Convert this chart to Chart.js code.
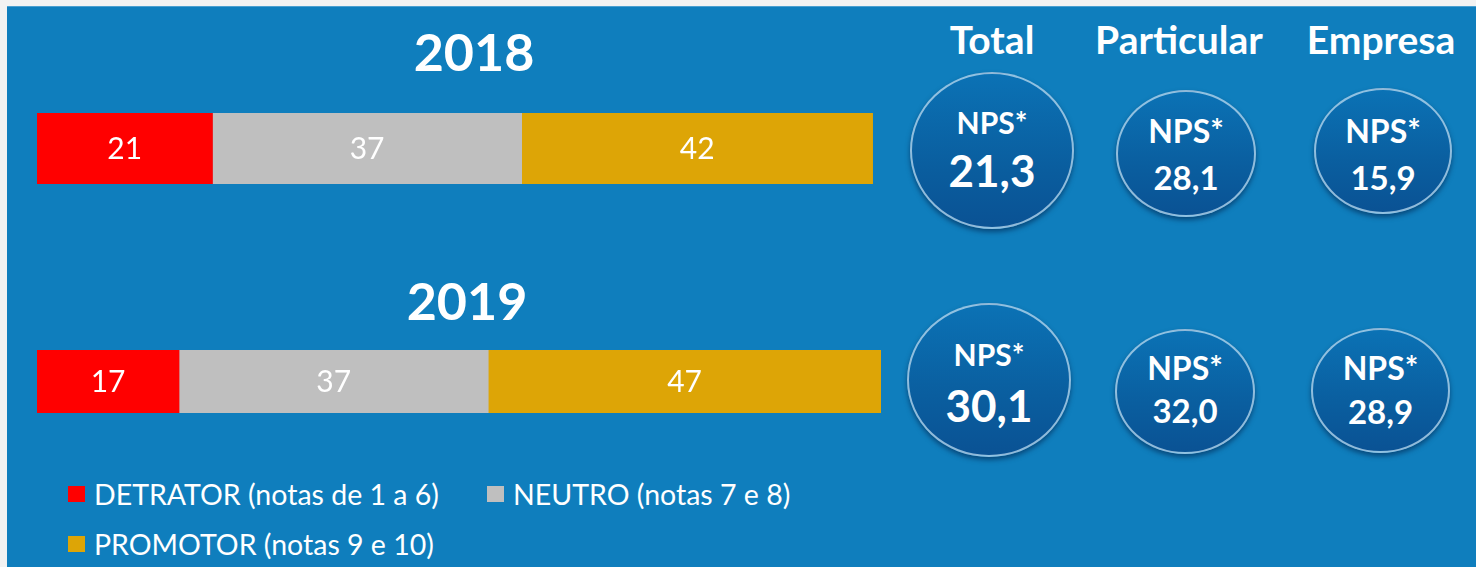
<!DOCTYPE html>
<html>
<head>
<meta charset="utf-8">
<script src="https://cdn.jsdelivr.net/npm/chart.js@4.4.0/dist/chart.umd.min.js"></script>
<style>
  html, body { margin: 0; padding: 0; }
  body { width: 1476px; height: 567px; background: #f2f2f2; position: relative; overflow: hidden; font-family: Lato, "Open Sans", sans-serif; }
  #panel { position: absolute; left: 7px; top: 6px; right: 0; bottom: 0; background: #0f7ebd; border-top: 1px solid #4a9fd0; }
  .abs { position: absolute; color: #fff; }
  .year { font-weight: bold; font-size: 52px; transform: translateX(-50%); line-height: 1; }
  .head { font-weight: bold; font-size: 39px; transform: translateX(-50%); line-height: 1; white-space: nowrap; }
  .circle { position: absolute; border-radius: 50%; box-sizing: border-box;
    border: 2px solid rgba(190, 220, 240, 0.75);
    background: linear-gradient(#0b72b5, #0a5e9f 60%, #0a5294);
    box-shadow: 0 3px 5px rgba(0, 30, 70, 0.55);
    color: #fff; font-weight: bold; text-align: center; }
  .circle div { position: absolute; left: 0; right: 0; line-height: 1; }
  .chartbox { position: absolute; }
  #legend { position: absolute; left: 68px; top: 478px; width: 800px; color: #fff; font-size: 28.5px; }
  .li { position: absolute; white-space: nowrap; }
  .li span.sw { position: absolute; left: 0; top: 8px; width: 17px; height: 16px; }
  .li span.tx { position: absolute; left: 26px; top: -1px; }
</style>
</head>
<body>
<div id="panel"></div>

<div class="abs year" style="left:474px; top:25px;">2018</div>
<div class="abs year" style="left:467px; top:274px;">2019</div>

<div class="chartbox" style="left:37px; top:113px; width:844px; height:71px;"><canvas id="c2018"></canvas></div>
<div class="chartbox" style="left:37px; top:350px; width:844px; height:63px;"><canvas id="c2019"></canvas></div>

<div id="legend"></div>
<div id="circles"></div>

<script>
// categorias e valores
var seriesNames = ["DETRATOR (notas de 1 a 6)", "NEUTRO (notas 7 e 8)", "PROMOTOR (notas 9 e 10)"];
var seriesColors = ["#ff0000", "#bfbfbf", "#dda506"];
var years = ["2018", "2019"];
var values2018 = [21, 37, 42];
var values2019 = [17, 37, 47];

// NPS por segmento
var segments = ["Total", "Particular", "Empresa"];
var nps2018 = ["21,3", "28,1", "15,9"];
var nps2019 = ["30,1", "32,0", "28,9"];

// escreve os numeros dentro das barras
var barLabels = {
  id: "barLabels",
  afterDatasetsDraw: function (chart) {
    var ctx = chart.ctx;
    ctx.save();
    ctx.fillStyle = "#ffffff";
    ctx.font = "30px Lato, 'Open Sans', sans-serif";
    ctx.textAlign = "center";
    ctx.textBaseline = "middle";
    chart.data.datasets.forEach(function (ds, i) {
      chart.getDatasetMeta(i).data.forEach(function (bar, j) {
        var p = bar.getCenterPoint();
        ctx.fillText(ds.data[j], p.x, p.y + 1);
      });
    });
    ctx.restore();
  },
};

function makeBar(id, year, values) {
  var datasets = seriesNames.map(function (name, i) {
    return {
      label: name,
      data: [values[i]],
      backgroundColor: seriesColors[i],
      borderWidth: 0,
      barPercentage: 1,
      categoryPercentage: 1,
    };
  });
  new Chart(document.getElementById(id), {
    type: "bar",
    data: { labels: [year], datasets: datasets },
    options: {
      indexAxis: "y",
      responsive: true,
      maintainAspectRatio: false,
      animation: false,
      layout: { padding: 0 },
      plugins: { legend: { display: false }, tooltip: { enabled: false } },
      scales: {
        x: { stacked: true, min: 0, max: 101, display: false },
        y: { stacked: true, display: false },
      },
    },
    plugins: [barLabels],
  });
}

makeBar("c2018", years[0], values2018);
makeBar("c2019", years[1], values2019);

// legenda
var legend = document.getElementById("legend");
var legendPos = [[0, 0], [419, 0], [0, 50]];
seriesNames.forEach(function (name, i) {
  var li = document.createElement("div");
  li.className = "li";
  li.style.left = legendPos[i][0] + "px";
  li.style.top = legendPos[i][1] + "px";
  li.innerHTML = '<span class="sw" style="background:' + seriesColors[i] + '"></span><span class="tx">' + name + "</span>";
  legend.appendChild(li);
});

// cabecalhos e circulos
var headX = [992, 1179, 1381];
segments.forEach(function (s, i) {
  var d = document.createElement("div");
  d.className = "abs head";
  d.style.left = headX[i] + "px";
  d.style.top = "20px";
  d.textContent = s;
  document.body.appendChild(d);
});

var circleBoxes = [
  // [left, top, width, height, npsFont, valueFont, npsTop, valueTop]
  [[910, 72, 164, 157, 30, 44, 33, 74], [1116, 90, 140, 127, 32, 33, 23, 69], [1314, 88, 138, 126, 32, 33, 25, 71]],
  [[907, 303, 164, 154, 30, 44, 34, 78], [1115, 329, 140, 125, 32, 33, 21, 63], [1311, 328, 139, 125, 32, 33, 22, 65]],
];
var allNps = [nps2018, nps2019];
circleBoxes.forEach(function (row, r) {
  row.forEach(function (b, i) {
    var c = document.createElement("div");
    c.className = "circle";
    c.style.left = b[0] + "px";
    c.style.top = b[1] + "px";
    c.style.width = b[2] + "px";
    c.style.height = b[3] + "px";
    c.innerHTML =
      '<div style="top:' + b[6] + "px;font-size:" + b[4] + 'px">NPS*</div>' +
      '<div style="top:' + b[7] + "px;font-size:" + b[5] + 'px">' + allNps[r][i] + "</div>";
    document.getElementById("circles").appendChild(c);
  });
});
</script>
</body>
</html>
